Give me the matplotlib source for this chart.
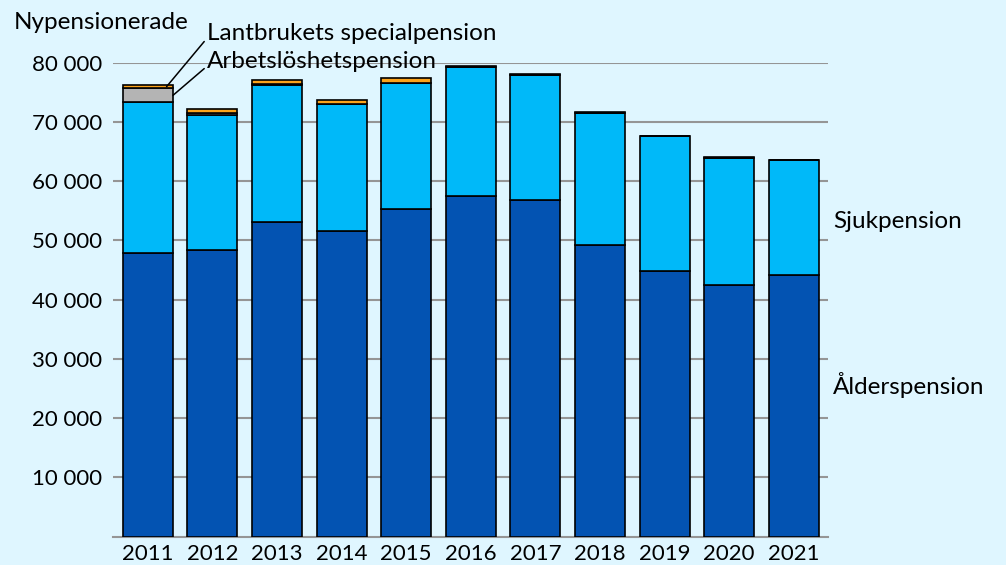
import matplotlib.pyplot as plt
import numpy as np

years = ["2011", "2012", "2013", "2014", "2015", "2016", "2017", "2018", "2019", "2020", "2021"]
alder = [47830, 48390, 53160, 51600, 55310, 57550, 56830, 49180, 44800, 42450, 44150]
sjuk = [25490, 22780, 23080, 21380, 21310, 21650, 21100, 22400, 22800, 21550, 19350]
arbetsloshet = [2360, 400, 100, 50, 30, 20, 10, 0, 0, 0, 0]
lantbruk = [560, 600, 700, 650, 700, 150, 100, 100, 80, 80, 80]
yticks = [10000, 20000, 30000, 40000, 50000, 60000, 70000, 80000]

bg = '#DFF6FF'
c_alder = '#0353B2'
c_sjuk = '#00B9F9'
c_arb = '#B4B4B4'
c_lant = '#FBA31B'

plt.rcParams['font.family'] = ['Lato', 'DejaVu Sans']
plt.rcParams['font.size'] = 16
label_size = 17.5

fig = plt.figure(figsize=(10.06, 5.65), dpi=100, facecolor=bg)
ax = fig.add_axes([0.1123, 0.0501, 0.7107, 0.8389], facecolor=bg)

x = np.arange(len(years))
w = 0.774
edge = dict(edgecolor='black', linewidth=1.2)
b0 = np.zeros(len(years))
ax.bar(x, alder, w, bottom=b0, color=c_alder, zorder=3, **edge)
b1 = b0 + np.array(alder)
ax.bar(x, sjuk, w, bottom=b1, color=c_sjuk, zorder=3, **edge)
b2 = b1 + np.array(sjuk)
ax.bar(x, arbetsloshet, w, bottom=b2, color=c_arb, zorder=3, **edge)
b3 = b2 + np.array(arbetsloshet)
ax.bar(x, lantbruk, w, bottom=b3, color=c_lant, zorder=3, **edge)

ax.set_xlim(-0.54, 10.53)
ax.set_ylim(0, 80000)
ax.set_yticks(yticks)
ax.set_yticklabels([f"{v:,}".replace(",", " ") for v in yticks])
ax.set_xticks(x)
ax.set_xticklabels(years)
ax.yaxis.grid(True, color='#959595', linewidth=1.5, zorder=0)
ax.tick_params(axis='y', length=0, pad=8)
ax.tick_params(axis='x', length=0, pad=5)
for s in ['top', 'right', 'left']:
    ax.spines[s].set_visible(False)
ax.spines['bottom'].set_color('#959595')
ax.spines['bottom'].set_linewidth(1.5)

# serieetiketter
ax.text(1.007, 0.666, "Sjukpension", transform=ax.transAxes, ha='left', va='center', fontsize=label_size)
ax.text(1.007, 0.32, "Ålderspension", transform=ax.transAxes, ha='left', va='center', fontsize=label_size)
fig.text(0.014, 0.96, "Nypensionerade", ha='left', va='center', fontsize=label_size)

ax.annotate("Lantbrukets specialpension", xy=(0.29, b3[0] + lantbruk[0] / 2),
            xytext=(207 / 1006, 1 - 34 / 565), textcoords='figure fraction',
            ha='left', va='center', annotation_clip=False, fontsize=label_size,
            arrowprops=dict(arrowstyle='-', color='black', lw=1.1,
                            shrinkA=0, shrinkB=0, relpos=(0, 0.3)))
ax.annotate("Arbetslöshetspension", xy=(0.39, b2[0] + arbetsloshet[0] / 2),
            xytext=(207 / 1006, 1 - 62 / 565), textcoords='figure fraction',
            ha='left', va='center', annotation_clip=False, fontsize=label_size,
            arrowprops=dict(arrowstyle='-', color='black', lw=1.1,
                            shrinkA=0, shrinkB=0, relpos=(0, 0.3)))

fig.savefig("out.png", dpi=100, facecolor=bg)
